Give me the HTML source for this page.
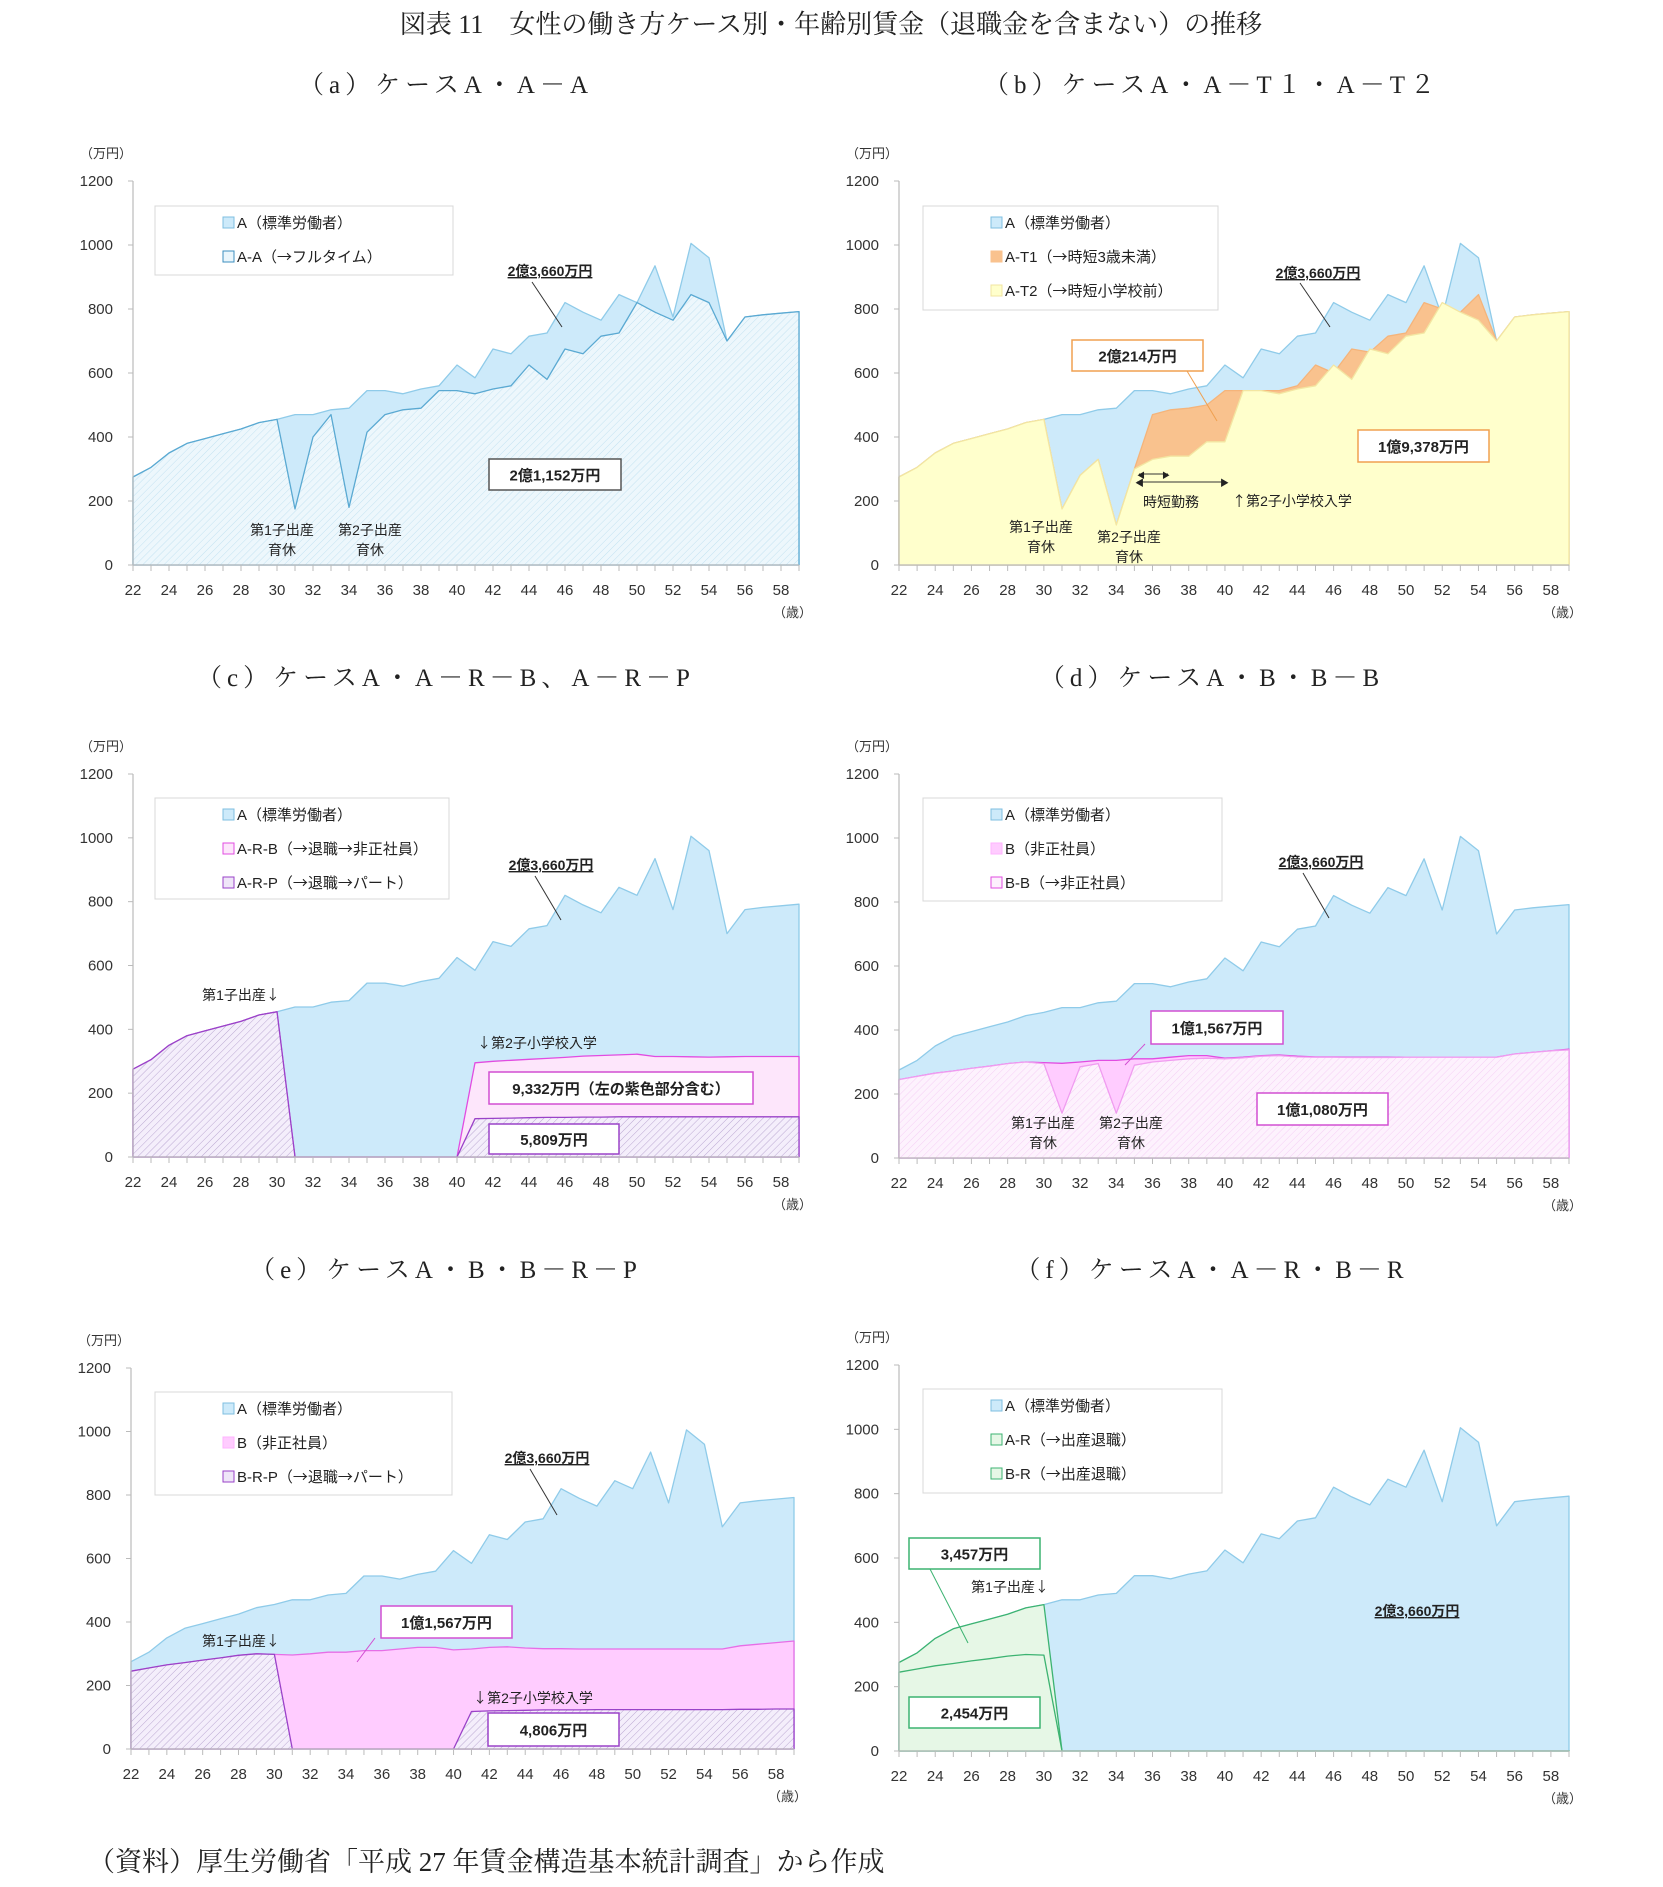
<!DOCTYPE html>
<html><head><meta charset="utf-8">
<style>
html,body{margin:0;padding:0;background:#fff;}
svg{display:block;}
text{font-family:"Liberation Sans","Noto Sans CJK JP",sans-serif;}
.ser{font-family:"Liberation Serif","Noto Serif CJK JP",serif;}
.arr{font-family:"Noto Sans CJK JP",sans-serif;}
</style></head>
<body>
<svg id="page" width="1663" height="1887" viewBox="0 0 1663 1887" xmlns="http://www.w3.org/2000/svg">
<defs>
<pattern id="hBlue" width="5" height="5" patternUnits="userSpaceOnUse" patternTransform="rotate(45)"><rect width="5" height="5" fill="#edf7fc"/><line x1="0" y1="0" x2="0" y2="5" stroke="#c3e2f1" stroke-width="1"/></pattern>
<pattern id="hPurple" width="5" height="5" patternUnits="userSpaceOnUse" patternTransform="rotate(45)"><rect width="5" height="5" fill="#f4eefb"/><line x1="0" y1="0" x2="0" y2="5" stroke="#bba8d2" stroke-width="1"/></pattern>
<pattern id="hPink" width="5" height="5" patternUnits="userSpaceOnUse" patternTransform="rotate(45)"><rect width="5" height="5" fill="#fdf2fd"/><line x1="0" y1="0" x2="0" y2="5" stroke="#f5cff5" stroke-width="1"/></pattern>
</defs>
<text class="ser" x="831" y="33" font-size="26" text-anchor="middle" fill="#222">図表 11　女性の働き方ケース別・年齢別賃金（退職金を含まない）の推移</text>
<text class="ser" x="446" y="93" font-size="25" text-anchor="middle" fill="#222" letter-spacing="5">（a）ケースA・A－A</text>
<text class="ser" x="1212" y="93" font-size="25" text-anchor="middle" fill="#222" letter-spacing="5">（b）ケースA・A－T１・A－T２</text>
<text class="ser" x="446" y="686" font-size="25" text-anchor="middle" fill="#222" letter-spacing="5">（c）ケースA・A－R－B、A－R－P</text>
<text class="ser" x="1212" y="686" font-size="25" text-anchor="middle" fill="#222" letter-spacing="5">（d）ケースA・B・B－B</text>
<text class="ser" x="446" y="1278" font-size="25" text-anchor="middle" fill="#222" letter-spacing="5">（e）ケースA・B・B－R－P</text>
<text class="ser" x="1212" y="1278" font-size="25" text-anchor="middle" fill="#222" letter-spacing="5">（f）ケースA・A－R・B－R</text>
<text class="ser" x="88" y="1871" font-size="27" fill="#222">（資料）厚生労働省「平成 27 年賃金構造基本統計調査」から作成</text>
</svg>
<script>
const ages = [22,23,24,25,26,27,28,29,30,31,32,33,34,35,36,37,38,39,40,41,42,43,44,45,46,47,48,49,50,51,52,53,54,55,56,57,58,59];
const yTicks = [0,200,400,600,800,1000,1200];
const xTickLabels = [22,24,26,28,30,32,34,36,38,40,42,44,46,48,50,52,54,56,58];
const seriesA  = [275,305,350,380,395,410,425,445,455,470,470,485,490,545,545,535,550,560,625,585,675,660,715,725,820,790,765,845,820,935,775,1005,960,700,775,782,787,792];
const seriesAA = [275,305,350,380,395,410,425,445,455,175,400,470,180,415,470,485,490,545,545,535,550,560,625,580,675,660,715,725,820,790,765,845,820,700,775,782,787,792];
const seriesAT1= [275,305,350,380,395,410,425,445,455,175,280,330,125,300,470,485,490,500,545,545,545,545,560,625,600,675,665,715,725,820,800,790,845,700,775,782,787,792];
const seriesAT2= [275,305,350,380,395,410,425,445,455,175,280,330,125,300,330,340,340,385,385,545,545,535,550,560,625,580,675,660,715,725,820,790,765,700,775,782,787,792];
const seriesARB= [275,305,350,380,395,410,425,445,455,0,0,0,0,0,0,0,0,0,0,295,300,303,306,309,312,316,318,320,322,315,315,314,313,314,315,315,315,315];
const seriesARP= [275,305,350,380,395,410,425,445,455,0,0,0,0,0,0,0,0,0,0,120,121,122,123,124,124,125,125,126,126,126,126,126,126,126,126,126,126,126];
const seriesB  = [245,255,265,272,280,287,295,300,298,296,300,305,305,310,310,315,320,320,312,315,320,322,318,316,316,315,315,315,315,315,315,315,315,315,325,330,335,340];
const seriesBB = [245,255,265,272,280,287,295,300,295,140,285,295,140,290,300,305,310,312,310,313,318,320,316,315,315,314,314,314,315,315,315,315,315,315,325,330,335,338];
const seriesBRP= [245,255,265,272,280,287,295,300,298,0,0,0,0,0,0,0,0,0,0,118,120,121,122,123,123,123,124,124,124,124,124,124,124,124,125,125,126,126];
const seriesAR = [275,305,350,380,395,410,425,445,455,0,0,0,0,0,0,0,0,0,0,0,0,0,0,0,0,0,0,0,0,0,0,0,0,0,0,0,0,0];
const seriesBR = [245,255,265,272,280,287,295,300,298,0,0,0,0,0,0,0,0,0,0,0,0,0,0,0,0,0,0,0,0,0,0,0,0,0,0,0,0,0];

const NS = 'http://www.w3.org/2000/svg';
const page = document.getElementById('page');
function mk(tag, parent){ const e=document.createElementNS(NS,tag); parent.appendChild(e); return e; }
function attrs(e,o){ for(const k in o) e.setAttribute(k,o[k]); return e; }
function setText(t, txt){
  const parts = txt.split(/([→↓↑])/);
  for(const p of parts){
    if(!p) continue;
    const s = mk('tspan', t);
    if(/[→↓↑]/.test(p)) s.setAttribute('class','arr');
    s.textContent = p;
  }
}

function makeChart(id, g){
  const grp = mk('g', page);
  
  
  const sx = a => g.x0 + (a-22)*(g.x1-g.x0)/37;
  const sy = v => g.y0 - v*(g.y0-g.y1)/1200;
  return {grp, sx, sy, g};
}
function drawArea(c, values, fill, stroke, name){
  let d = 'M'+c.sx(ages[0])+','+c.sy(0);
  for(let i=0;i<ages.length;i++) d += ' L'+c.sx(ages[i]).toFixed(1)+','+c.sy(values[i]).toFixed(1);
  d += ' L'+c.sx(ages[ages.length-1])+','+c.sy(0)+' Z';
  const p = mk('path', c.grp);
  attrs(p,{d:d, fill:fill, stroke:stroke, 'stroke-width':1.3, 'stroke-linejoin':'round'});
  
  
}
function drawAxes(c){
  const g=c.g;
  const ax = mk('g', c.grp);
  
  
  attrs(mk('line',ax),{x1:g.x0,y1:g.y1,x2:g.x0,y2:g.y0,stroke:'#bbb','stroke-width':1.2});
  attrs(mk('line',ax),{x1:g.x0,y1:g.y0,x2:g.x1,y2:g.y0,stroke:'#bbb','stroke-width':1.2});
  const yl = mk('text',ax); attrs(yl,{x:g.x0-53,y:g.y1-23,'font-size':13,fill:'#333'}); yl.textContent='（万円）';
  
  
  for(const v of yTicks){
    attrs(mk('line',ax),{x1:g.x0-5,y1:c.sy(v),x2:g.x0,y2:c.sy(v),stroke:'#bbb'});
    const t = mk('text',ax); attrs(t,{x:g.x0-20,y:c.sy(v)+5,'font-size':15,'text-anchor':'end',fill:'#333'}); t.textContent=v;
    
    
  }
  for(const a of ages) attrs(mk('line',ax),{x1:c.sx(a),y1:g.y0,x2:c.sx(a),y2:g.y0+6,stroke:'#bbb'});
  for(const a of xTickLabels){
    const t = mk('text',ax); attrs(t,{x:c.sx(a),y:g.y0+30,'font-size':15,'text-anchor':'middle',fill:'#333'}); t.textContent=a;
    
    
  }
  const xl = mk('text',ax); attrs(xl,{x:g.x1-26,y:g.y0+52,'font-size':13,fill:'#333'}); xl.textContent='（歳）';
  
  
}
function legend(c, x, y, w, h, items){
  const lg = mk('g', c.grp);
  
  
  attrs(mk('rect',lg),{x:x,y:y,width:w,height:h,fill:'#fff',stroke:'#d8d8d8'});
  items.forEach((it,i)=>{
    const yy = y+18+i*34;
    const r = mk('rect',lg); attrs(r,{x:x+68,y:yy-7,width:11,height:11,fill:it[1],stroke:it[2]});
    const t = mk('text',lg); attrs(t,{x:x+82,y:yy+4,'font-size':15,fill:'#222'}); setText(t, it[0]);
    
    
  });
}
function label(c, x, y, txt, opt){
  opt = opt||{};
  const t = mk('text', c.grp);
  attrs(t,{x:x,y:y,'font-size':opt.size||14,'text-anchor':opt.anchor||'middle',fill:'#222','font-weight':opt.bold?'bold':'normal'});
  if(opt.underline) t.setAttribute('text-decoration','underline');
  setText(t, txt);
  
  
}
function box(c, x1,y1,x2,y2, color, txt){
  attrs(mk('rect',c.grp),{x:x1,y:y1,width:x2-x1,height:y2-y1,fill:'#fff',stroke:color,'stroke-width':1.5});
  label(c,(x1+x2)/2,(y1+y2)/2+6,txt,{bold:true,size:15});
}
function leader(c,x1,y1,x2,y2,color){ attrs(mk('line',c.grp),{x1:x1,y1:y1,x2:x2,y2:y2,stroke:color||'#333','stroke-width':1}); }

const BLUE='#cdeafa', BLUE_S='#8fcbe9';
const LEG_A=['A（標準労働者）',BLUE,'#7fbfe0'];

// (a)
let c = makeChart('a',{x0:133,x1:799,y0:565,y1:181});
drawArea(c, seriesA, BLUE, BLUE_S, 'area-a-standard');
drawArea(c, seriesAA, 'url(#hBlue)', '#5aa9d2', 'area-a-a-fulltime');
drawAxes(c);
legend(c,155,206,298,69,[LEG_A,['A-A（→フルタイム）','#eaf6fc','#3c8fbf']]);
label(c,550,276,'2億3,660万円',{bold:true,underline:true});
leader(c,532,282,562,327);
box(c,489,459,621,490,'#555','2億1,152万円');
label(c,282,535,'第1子出産'); label(c,282,555,'育休');
label(c,370,535,'第2子出産'); label(c,370,555,'育休');

// (b)
c = makeChart('b',{x0:899,x1:1569,y0:565,y1:181});
drawArea(c, seriesA, BLUE, BLUE_S, 'area-a-standard');
drawArea(c, seriesAT1, '#f9c28e', '#f5b47a', 'area-a-t1');
drawArea(c, seriesAT2, '#ffffcc', '#f3e6a2', 'area-a-t2');
drawAxes(c);
legend(c,923,206,295,104,[LEG_A,['A-T1（→時短3歳未満）','#f9c28e','#f9c28e'],['A-T2（→時短小学校前）','#ffffcc','#f0e4a0']]);
label(c,1318,278,'2億3,660万円',{bold:true,underline:true});
leader(c,1300,283,1330,327);
box(c,1072,340,1203,371,'#f0a050','2億214万円');
leader(c,1187,371,1217,421,'#f0a050');
box(c,1358,430,1489,462,'#f0a050','1億9,378万円');
leader(c,1139,474,1168,474); label(c,1170,478,'▶',{size:8,anchor:'end'}); label(c,1137,478,'◀',{size:8,anchor:'start'});
leader(c,1137,482,1226,482); label(c,1229,486,'▶',{size:9,anchor:'end'});
label(c,1135,486,'◀',{size:9,anchor:'start'});
label(c,1171,507,'時短勤務');
label(c,1292,506,'↑第2子小学校入学');
label(c,1041,532,'第1子出産'); label(c,1041,552,'育休');
label(c,1129,542,'第2子出産'); label(c,1129,562,'育休');

// (c)
c = makeChart('c',{x0:133,x1:799,y0:1157,y1:774});
drawArea(c, seriesA, BLUE, BLUE_S, 'area-a-standard');
drawArea(c, seriesARB, '#fde6fb', '#e14ce1', 'area-a-r-b');
drawArea(c, seriesARP, 'url(#hPurple)', '#9a42c8', 'area-a-r-p');
drawAxes(c);
legend(c,155,798,294,101,[LEG_A,['A-R-B（→退職→非正社員）','#fde6fb','#e14ce1'],['A-R-P（→退職→パート）','#efe6f8','#9a42c8']]);
label(c,551,870,'2億3,660万円',{bold:true,underline:true});
leader(c,535,876,561,920);
label(c,241,1000,'第1子出産↓');
label(c,537,1048,'↓第2子小学校入学');
box(c,489,1072,753,1104,'#d24fd2','9,332万円（左の紫色部分含む）');
box(c,489,1124,619,1154,'#9a42c8','5,809万円');

// (d)
c = makeChart('d',{x0:899,x1:1569,y0:1158,y1:774});
drawArea(c, seriesA, BLUE, BLUE_S, 'area-a-standard');
drawArea(c, seriesB, '#ffccff', '#e14ce1', 'area-b-nonregular');
drawArea(c, seriesBB, 'url(#hPink)', '#f09cf0', 'area-b-b');
drawAxes(c);
legend(c,923,798,299,103,[LEG_A,['B（非正社員）','#ffccff','#ffb3ff'],['B-B（→非正社員）','#fdf0fd','#e14ce1']]);
label(c,1321,867,'2億3,660万円',{bold:true,underline:true});
leader(c,1303,873,1329,918);
box(c,1151,1011,1283,1044,'#d24fd2','1億1,567万円');
leader(c,1145,1044,1125,1065,'#d24fd2');
box(c,1257,1093,1388,1125,'#d24fd2','1億1,080万円');
label(c,1043,1128,'第1子出産'); label(c,1043,1148,'育休');
label(c,1131,1128,'第2子出産'); label(c,1131,1148,'育休');

// (e)
c = makeChart('e',{x0:131,x1:794,y0:1749,y1:1368});
drawArea(c, seriesA, BLUE, BLUE_S, 'area-a-standard');
drawArea(c, seriesB, '#ffccff', '#e66ee6', 'area-b-nonregular');
drawArea(c, seriesBRP, 'url(#hPurple)', '#9a42c8', 'area-b-r-p');
drawAxes(c);
legend(c,155,1392,297,103,[LEG_A,['B（非正社員）','#ffccff','#ffb3ff'],['B-R-P（→退職→パート）','#efe6f8','#9a42c8']]);
label(c,547,1463,'2億3,660万円',{bold:true,underline:true});
leader(c,530,1469,557,1515);
box(c,381,1606,512,1638,'#d24fd2','1億1,567万円');
leader(c,375,1638,357,1662,'#d24fd2');
label(c,241,1646,'第1子出産↓');
label(c,533,1703,'↓第2子小学校入学');
box(c,488,1713,619,1746,'#9a42c8','4,806万円');

// (f)
c = makeChart('f',{x0:899,x1:1569,y0:1751,y1:1365});
drawArea(c, seriesA, BLUE, BLUE_S, 'area-a-standard');
drawArea(c, seriesAR, '#e6f7e6', '#3cb371', 'area-a-r');
drawArea(c, seriesBR, '#e6f7e6', '#3cb371', 'area-b-r');
drawAxes(c);
legend(c,923,1389,299,104,[LEG_A,['A-R（→出産退職）','#e6f7e6','#3cb371'],['B-R（→出産退職）','#e6f7e6','#3cb371']]);
label(c,1417,1616,'2億3,660万円',{bold:true,underline:true});
box(c,909,1538,1040,1569,'#3cb371','3,457万円');
leader(c,930,1569,968,1643,'#3cb371');
label(c,1010,1592,'第1子出産↓');
box(c,909,1697,1040,1728,'#3cb371','2,454万円');
</script>
</body></html>
